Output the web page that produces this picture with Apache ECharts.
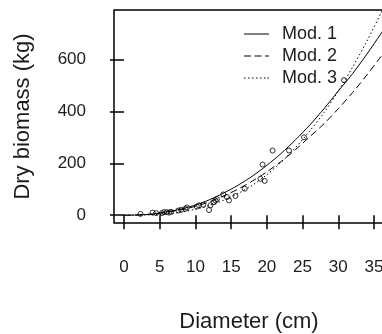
<!DOCTYPE html>
<html>
<head>
<meta charset="utf-8">
<script src="https://cdn.jsdelivr.net/npm/echarts@6/dist/echarts.min.js"></script>
<style>
  html, body { margin: 0; padding: 0; background: #fff; }
  #chart { width: 382px; height: 334px; }
</style>
</head>
<body>
<div id="chart"></div>
<script>
// diameter grid for the fitted curves
const diam = [0, 2, 4, 6, 8, 10, 12, 14, 16, 18, 20, 22, 24, 26, 28, 30, 32, 34, 36, 37];
const mod1 = [0, 1, 5, 13, 24, 39, 60, 86, 116, 151, 192, 238, 290, 347, 410, 478, 545, 620, 700, 742];
const mod2 = [0, 1, 4, 11, 21, 34, 52, 75, 101, 132, 167, 207, 252, 302, 352, 410, 472, 540, 612, 650];
const mod3 = [0, 0.3, 1.7, 5, 12, 23, 38, 58, 84, 116, 156, 204, 260, 324, 395, 478, 570, 670, 780, 840];

// observed trees: diameter (cm), dry biomass (kg)
const obsDiam = [2.3, 4.0, 4.5, 5.3, 5.6, 6.0, 6.3, 6.6, 7.6, 8.0, 8.6, 8.8, 10.2, 10.5, 11.1, 11.9, 12.1, 12.6, 12.8, 13.0, 13.9, 14.4, 14.7, 15.6, 16.9, 19.1, 19.4, 19.7, 20.8, 23.1, 25.2, 30.8];
const obsMass = [5, 10, 8, 8, 12, 12, 10, 13, 18, 21, 25, 30, 33, 38, 40, 20, 38, 50, 57, 62, 80, 70, 57, 74, 102, 140, 195, 132, 249, 249, 300, 520];

const xTicks = [0, 5, 10, 15, 20, 25, 30, 35];
const yTicks = [0, 200, 400, 600];

const font = 'Liberation Sans, Arial, sans-serif';
const ink = '#1c1c1c';

// legend keys drawn as flat strokes: solid, dashed, dotted
const keySolid = 'path://M0,0h25v1h-25z';
const keyDash = 'path://M0,0h7v1h-7zM10.5,0h7v1h-7zM21,0h4v1h-4z';
const keyDot = 'path://M0,0h1.5v1h-1.5zM4,0h1.5v1h-1.5zM8,0h1.5v1h-1.5zM12,0h1.5v1h-1.5zM16,0h1.5v1h-1.5zM20,0h1.5v1h-1.5zM23.5,0h1.5v1h-1.5z';

const pairs = (xs, ys) => xs.map((x, i) => [x, ys[i]]);

const chart = echarts.init(document.getElementById('chart'));

const lineSeries = (name, ys, type) => ({
  name,
  type: 'line',
  data: pairs(diam, ys),
  symbol: 'none',
  smooth: 0.3,
  lineStyle: { color: '#000', width: 1, type },
  itemStyle: { color: '#000' },
  z: 3
});

chart.setOption({
  animation: false,
  grid: {
    left: 114, top: 10, width: 270, height: 213,
    outerBoundsMode: 'none',
    show: true, borderColor: '#000', borderWidth: 1.5,
    backgroundColor: 'transparent'
  },
  legend: {
    orient: 'vertical',
    left: 244, top: 25, padding: 0,
    itemWidth: 25, itemHeight: 1.2, itemGap: 4,
    data: [
      { name: 'Mod. 1', icon: keySolid },
      { name: 'Mod. 2', icon: keyDash },
      { name: 'Mod. 3', icon: keyDot }
    ],
    itemStyle: { color: '#000', borderWidth: 0 },
    textStyle: { fontFamily: font, fontSize: 18, color: ink, padding: [0, 0, 0, 8] }
  },
  xAxis: {
    type: 'value', min: -1.4, max: 36.4,
    name: 'Diameter (cm)', nameLocation: 'middle', nameGap: 88,
    nameTextStyle: { fontFamily: font, fontSize: 22, color: ink },
    axisLine: { show: false },
    axisTick: { show: true, customValues: xTicks, length: 14, lineStyle: { color: '#000', width: 1.5 } },
    axisLabel: { customValues: xTicks, margin: 36, fontFamily: font, fontSize: 17, color: ink },
    splitLine: { show: false }
  },
  yAxis: {
    type: 'value', min: -30, max: 790,
    name: 'Dry biomass (kg)', nameLocation: 'middle', nameGap: 80,
    nameTextStyle: { fontFamily: font, fontSize: 22, color: ink },
    axisLine: { show: false },
    axisTick: { show: true, customValues: yTicks, length: 14, lineStyle: { color: '#000', width: 1.5 } },
    axisLabel: { customValues: yTicks, margin: 28, fontFamily: font, fontSize: 17, color: ink },
    splitLine: { show: false }
  },
  series: [
    lineSeries('Mod. 1', mod1, 'solid'),
    lineSeries('Mod. 2', mod2, [7, 4]),
    lineSeries('Mod. 3', mod3, [1.5, 2.5]),
    {
      name: 'obs',
      type: 'scatter',
      data: pairs(obsDiam, obsMass),
      symbol: 'circle',
      symbolSize: 5,
      itemStyle: { color: 'rgba(0,0,0,0)', borderColor: '#000', borderWidth: 1 },
      z: 4
    }
  ]
});
</script>
</body>
</html>
